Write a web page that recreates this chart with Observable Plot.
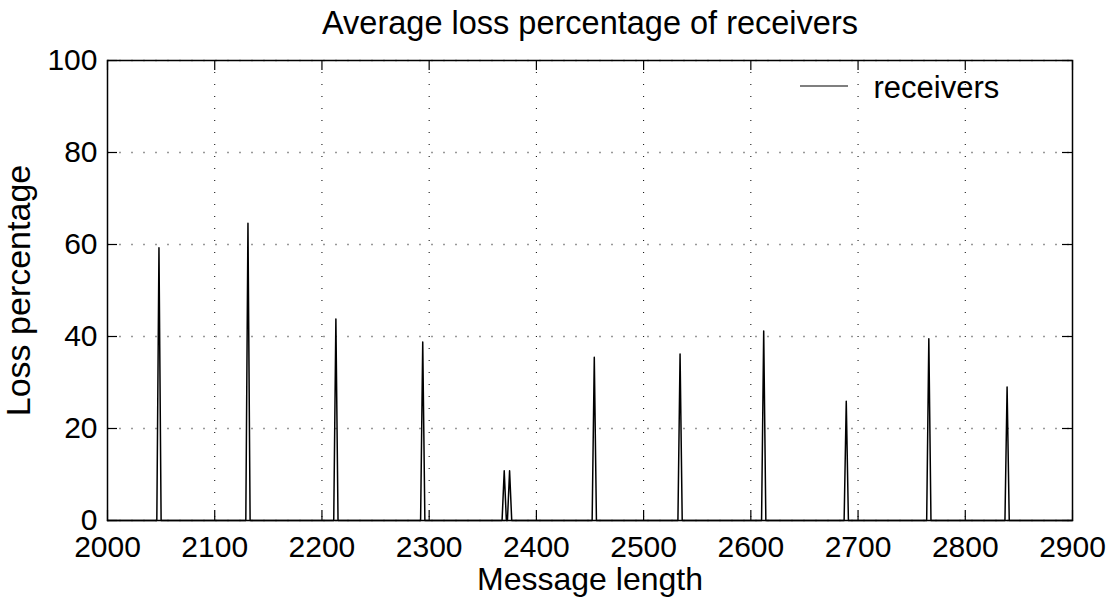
<!DOCTYPE html>
<html>
<head>
<meta charset="utf-8">
<script src="https://cdn.jsdelivr.net/npm/d3@7"></script>
<script src="https://cdn.jsdelivr.net/npm/@observablehq/plot@0.6"></script>
<style>
  html, body { margin: 0; padding: 0; background: #fff; }
</style>
</head>
<body>
<div id="chart"></div>
<script>
// Data
const lengths = [2000, 2046, 2048, 2050, 2129, 2131, 2133, 2211, 2213, 2215, 2292, 2294, 2296,
  2368, 2370, 2372, 2373, 2375, 2377, 2452, 2454, 2456, 2532, 2534, 2536, 2610, 2612, 2614,
  2687, 2689, 2691, 2764, 2766, 2768, 2837, 2839, 2841, 2900];
const loss = [0, 0, 59.3, 0, 0, 64.6, 0, 0, 43.8, 0, 0, 38.8, 0,
  0, 10.8, 0, 0, 10.8, 0, 0, 35.5, 0, 0, 36.2, 0, 0, 41.2, 0,
  0, 25.9, 0, 0, 39.5, 0, 0, 29.0, 0, 0];
const xTicks = [2000, 2100, 2200, 2300, 2400, 2500, 2600, 2700, 2800, 2900];
const yTicks = [0, 20, 40, 60, 80, 100];
const titleText = "Average loss percentage of receivers";
const xLabel = "Message length";
const yLabel = "Loss percentage";
const seriesName = "receivers";

const data = lengths.map((x, i) => ({x, y: loss[i]}));

const W = 1113, H = 601;
const mL = 107, mR = 41, mT = 60, mB = 81;
const innerW = W - mL - mR, innerH = H - mT - mB;
const FONT = "'Liberation Sans', Arial, Helvetica, sans-serif";

const legendMark = (index, scales, values, dims) => {
  const g = d3.create("svg:g");
  const xr = dims.width - dims.marginRight;
  g.append("line")
    .attr("x1", xr - 272).attr("x2", xr - 224)
    .attr("y1", dims.marginTop + 26).attr("y2", dims.marginTop + 26)
    .attr("stroke", "black").attr("stroke-width", 1.2);
  return g.node();
};

const chart = Plot.plot({
  width: W,
  height: H,
  marginLeft: mL,
  marginRight: mR,
  marginTop: mT,
  marginBottom: mB,
  style: {fontFamily: FONT, fontSize: "30px", background: "white", color: "black"},
  x: {domain: [2000, 2900]},
  y: {domain: [0, 100]},
  marks: [
    Plot.gridX(xTicks, {stroke: "black", strokeOpacity: 1, strokeWidth: 1, strokeDasharray: "1,11"}),
    Plot.gridY(yTicks, {stroke: "#999", strokeOpacity: 1, strokeWidth: 1.5, strokeDasharray: "2,10"}),
    Plot.line(data, {x: "x", y: "y", stroke: "black", strokeWidth: 1.5}),
    Plot.tickX(xTicks, {x: d => d, stroke: "black", strokeWidth: 1.2, insetTop: innerH - 10}),
    Plot.tickX(xTicks, {x: d => d, stroke: "black", strokeWidth: 1.2, insetBottom: innerH - 10}),
    Plot.tickY(yTicks, {y: d => d, stroke: "black", strokeWidth: 1.2, insetRight: innerW - 10}),
    Plot.tickY(yTicks, {y: d => d, stroke: "black", strokeWidth: 1.2, insetLeft: innerW - 10}),
    Plot.frame({stroke: "black", strokeWidth: 1.5}),
    Plot.axisX(xTicks, {tickSize: 0, tickPadding: 15, fontSize: 30, tickFormat: "d", label: null}),
    Plot.axisY(yTicks, {tickSize: 0, tickPadding: 10, fontSize: 30, tickFormat: "d", label: null}),
    Plot.text([titleText], {frameAnchor: "top", lineAnchor: "bottom", dy: -27, fontSize: 32.5}),
    Plot.text([xLabel], {frameAnchor: "bottom", lineAnchor: "bottom", dy: 69, fontSize: 32}),
    Plot.text([yLabel], {frameAnchor: "left", textAnchor: "middle", lineAnchor: "bottom", rotate: -90, dx: -78, fontSize: 34}),
    legendMark,
    Plot.text([seriesName], {frameAnchor: "top-right", textAnchor: "start", lineAnchor: "middle", dx: -199, dy: 28, fontSize: 31})
  ]
});
document.getElementById("chart").appendChild(chart);
</script>
</body>
</html>
